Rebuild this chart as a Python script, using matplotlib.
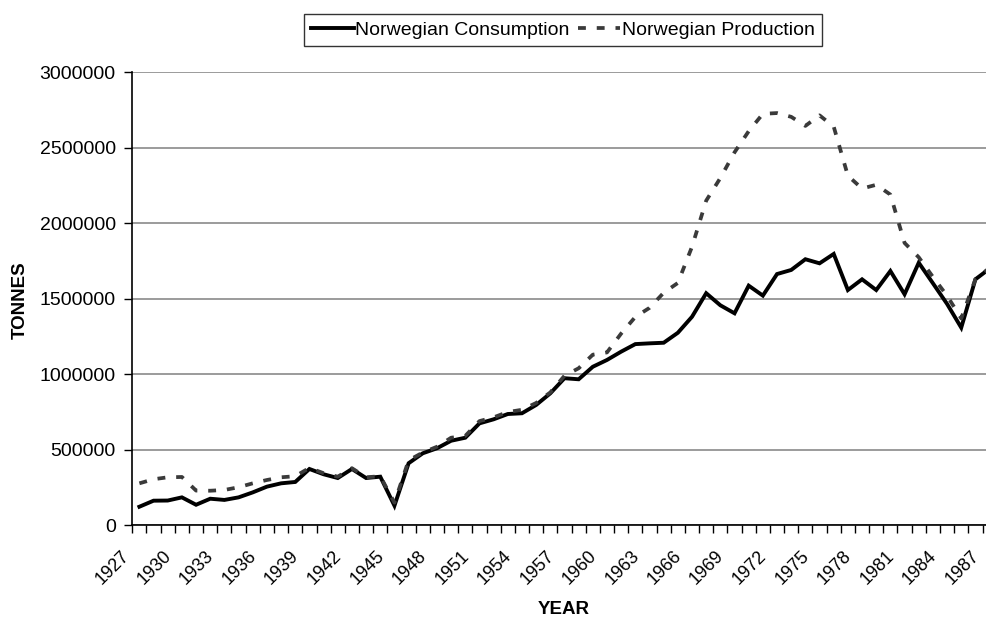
import matplotlib.pyplot as plt
from matplotlib.ticker import FixedLocator

plt.rcParams['font.family'] = ['Liberation Sans', 'DejaVu Sans']

years = list(range(1927, 1988))

consumption = [
    123000, 163000, 164000, 185000, 136000, 176000, 168000, 185000, 218000, 256000,
    278000, 287000, 373000, 338000, 313000, 373000, 313000, 322000, 130000, 411000,
    477000, 510000, 560000, 580000, 675000, 702000, 737000, 742000, 797000, 874000,
    974000, 967000, 1050000, 1095000, 1150000, 1200000, 1205000, 1209000, 1275000, 1381000,
    1537000, 1457000, 1404000, 1587000, 1521000, 1664000, 1691000, 1762000, 1735000, 1797000,
    1558000, 1629000, 1558000, 1684000, 1530000, 1739000, 1603000, 1466000, 1309000, 1629000,
    1700000,
]

production = [
    278000, 305000, 318000, 320000, 230000, 229000, 234000, 252000, 278000, 300000,
    318000, 325000, 380000, 345000, 322000, 378000, 318000, 325000, 150000, 430000,
    482000, 520000, 580000, 592000, 690000, 715000, 750000, 765000, 810000, 880000,
    990000, 1040000, 1130000, 1145000, 1270000, 1380000, 1440000, 1540000, 1605000, 1845000,
    2150000, 2300000, 2470000, 2610000, 2725000, 2730000, 2705000, 2645000, 2715000, 2640000,
    2315000, 2230000, 2255000, 2190000, 1870000, 1775000, 1645000, 1520000, 1370000, 1630000,
    1705000,
]

label_years = years[::3]
y_ticks = [0, 500000, 1000000, 1500000, 2000000, 2500000, 3000000]

W, H = 986, 619
fig = plt.figure(figsize=(W / 100, H / 100), dpi=100)
ax = fig.add_axes([132.3 / W, (H - 525.3) / H, (W - 132.3) / W, 453 / H])

ax.plot(years, consumption, color='black', lw=2.8, solid_joinstyle='miter',
        label='Norwegian Consumption', zorder=3)
ax.plot(years, production, color='#3a3a3a', lw=2.7, linestyle=(0, (2.1, 2.9)),
        dash_capstyle='butt', label='Norwegian Production', zorder=4)

ax.set_xlim(1926.5, 1926.5 + (W - 132.3) / 14.17)
ax.set_ylim(0, 3000000)

# category axis: ticks sit between years, labels every third year
ax.xaxis.set_major_locator(FixedLocator([y - 0.5 for y in label_years]))
ax.set_xticklabels([str(y) for y in label_years], rotation=45, ha='right', va='top')
ax.xaxis.set_minor_locator(FixedLocator([y - 0.5 for y in years] + [years[-1] + 0.5]))
ax.tick_params(axis='x', which='both', direction='out', length=6, width=1, color='black')
ax.tick_params(axis='x', which='major', pad=10, labelsize=13)

ax.set_yticks(y_ticks)
ax.set_yticklabels([str(v) for v in y_ticks])
ax.tick_params(axis='y', direction='out', length=6, width=1, pad=6, labelsize=14)

ax.grid(axis='y', color='#808080', lw=1.1)
ax.set_axisbelow(True)
for s in ['top', 'right']:
    ax.spines[s].set_visible(False)
ax.spines['left'].set_linewidth(1.2)
ax.spines['bottom'].set_linewidth(1.2)

fig.text(20.5 / W, 1 - 300 / H, 'TONNES', rotation=90, ha='center', va='center',
         fontsize=13.5, fontweight='bold')
fig.text(564 / W, 1 - 609 / H, 'YEAR', ha='center', va='center',
         fontsize=13.5, fontweight='bold')

leg = fig.legend(loc='center', bbox_to_anchor=(563 / W, 1 - 30 / H), ncol=2,
                 fontsize=14, frameon=True, fancybox=False, edgecolor='black',
                 handlelength=2.2, handletextpad=0.1, columnspacing=0.4,
                 borderpad=0.35, borderaxespad=0)
leg.get_frame().set_linewidth(1.0)

fig.savefig('out.png', dpi=100)
